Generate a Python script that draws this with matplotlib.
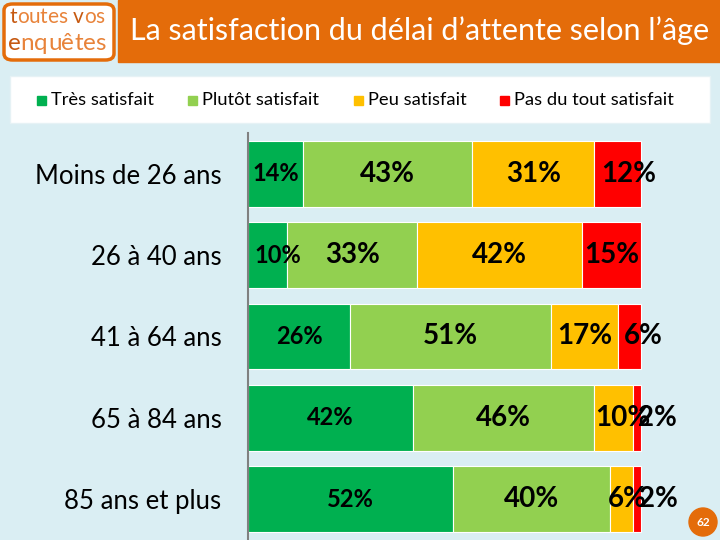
import numpy as np
import matplotlib
matplotlib.use("Agg")
import matplotlib.pyplot as plt
from matplotlib.patches import Rectangle, FancyBboxPatch, Ellipse

plt.rcParams['font.family'] = ['Lato', 'DejaVu Sans']

categories = ["Moins de 26 ans", "26 à 40 ans", "41 à 64 ans", "65 à 84 ans", "85 ans et plus"]
series_names = ["Très satisfait", "Plutôt satisfait", "Peu satisfait", "Pas du tout satisfait"]
tres = [14, 10, 26, 42, 52]
plutot = [43, 33, 51, 46, 40]
peu = [31, 42, 17, 10, 6]
pas_du_tout = [12, 15, 6, 2, 2]
colors = ["#00B050", "#92D050", "#FFC000", "#FF0000"]
label_sizes = [17, 20, 20, 20]

# small manual nudges of labels (in % units), as in the original slide
nudges = {(0, 3): 2.8, (1, 0): 2.5, (2, 3): 3.5, (3, 2): 2.2, (3, 3): 5.0,
          (4, 2): 1.5, (4, 3): 5.3}

bg = "#DAEEF3"
orange = "#E46C0A"

fig = plt.figure(figsize=(7.2, 5.4), dpi=100)
fig.patch.set_facecolor(bg)
W, H = 720, 540

# header
fig.patches.append(Rectangle((118 / W, 1 - 62 / H), 1 - 118 / W, 62 / H,
                             transform=fig.transFigure, color=orange, zorder=0))
fig.patches.append(FancyBboxPatch((4 / W, 1 - 60 / H), 110 / W, 56 / H,
                                  boxstyle="round,pad=0,rounding_size=0.012",
                                  transform=fig.transFigure, facecolor="white",
                                  edgecolor=orange, linewidth=2.5, zorder=1))

renderer = fig.canvas.get_renderer()
light, dark = "#E8833A", "#C65911"


def logo_line(x_px, y_px, word, size, dark_idx):
    # draw letter by letter so the first letters can be darker
    x = x_px / W
    for i, ch in enumerate(word):
        fig.text(x, 1 - y_px / H, ch, ha="left", va="center", fontsize=size,
                 color=dark if i in dark_idx else light, zorder=2)
        probe = fig.text(x_px / W, 0, word[:i + 1], fontsize=size, alpha=0)
        x = x_px / W + probe.get_window_extent(renderer).width / W
        probe.remove()


logo_line(9, 17, "toutes vos", 15, {0, 7})
logo_line(8, 43, "enquêtes", 17.5, {0})

fig.text(130 / W, 1 - 31 / H, "La satisfaction du délai d’attente selon l’âge",
         ha="left", va="center", fontsize=22, color="white")

# legend box
fig.patches.append(Rectangle((10 / W, 1 - 123 / H), 700 / W, 47 / H,
                             transform=fig.transFigure, facecolor="white",
                             edgecolor="#E6F2F5", linewidth=1, zorder=0))
leg_x = [37, 188, 354, 500]
for name, c, lx in zip(series_names, colors, leg_x):
    fig.patches.append(Rectangle((lx / W, 1 - 105 / H), 9 / W, 9 / H,
                                 transform=fig.transFigure, color=c))
    fig.text((lx + 14) / W, 1 - 100 / H, name, ha="left", va="center",
             fontsize=13.2, color="black")

# bars
ax = fig.add_axes([248 / W, 0, 1 - 248 / W, 1 - 133 / H])
ax.set_facecolor(bg)
y = np.arange(len(categories))
data = [tres, plutot, peu, pas_du_tout]
left = np.zeros(len(categories))
for si, (vals, c, fs) in enumerate(zip(data, colors, label_sizes)):
    vals = np.array(vals)
    ax.barh(y, vals, left=left, height=0.81, color=c, edgecolor="white", linewidth=0.8)
    for yi, (l, v) in enumerate(zip(left, vals)):
        ax.text(l + v / 2 + nudges.get((yi, si), 0), yi, f"{v}%", ha="center", va="center",
                fontsize=fs, fontweight="bold", color="black")
    left += vals

ax.set_xlim(0, 120)
ax.set_ylim(4.5, -0.5)
ax.set_yticks(y)
ax.set_yticklabels(categories, fontsize=18.5)
ax.tick_params(axis="y", length=0, pad=19)
ax.set_xticks([])
for s in ["top", "right", "bottom"]:
    ax.spines[s].set_visible(False)
ax.spines["left"].set_color("#808080")
ax.spines["left"].set_linewidth(1.5)

# page number
fig.patches.append(Ellipse((703 / W, 1 - 522 / H), 28 / W, 28 / H,
                           transform=fig.transFigure, color=orange))
fig.text(703 / W, 1 - 522 / H, "62", ha="center", va="center",
         fontsize=8.5, fontweight="bold", color="white")

fig.savefig("out.png", dpi=100, facecolor=bg)
